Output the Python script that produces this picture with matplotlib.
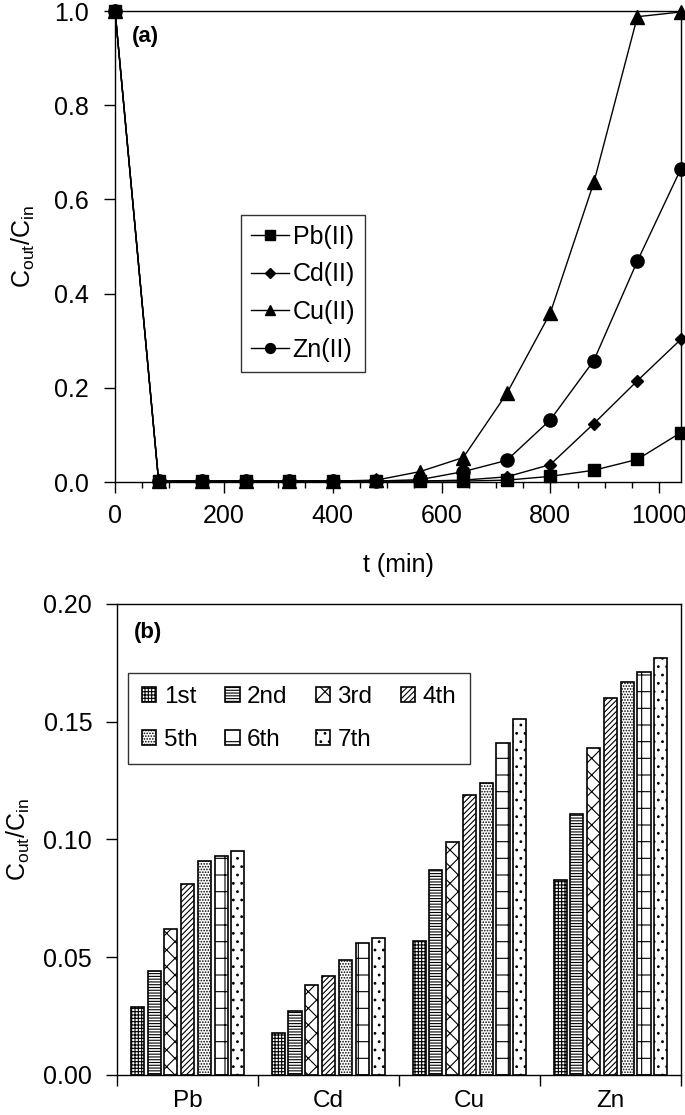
import matplotlib.pyplot as plt
import numpy as np

plt.rcParams['font.family'] = ['Liberation Sans', 'DejaVu Sans']
plt.rcParams['mathtext.fontset'] = 'custom'
plt.rcParams['mathtext.rm'] = 'Liberation Sans'
plt.rcParams['mathtext.it'] = 'Liberation Sans:italic'
plt.rcParams['hatch.linewidth'] = 0.8

# (a) breakthrough curves
t = [0, 80, 160, 240, 320, 400, 480, 560, 640, 720, 800, 880, 960, 1040]
pb = [1.0, 0.002, 0.002, 0.002, 0.002, 0.002, 0.002, 0.002, 0.002, 0.004, 0.012, 0.025, 0.048, 0.105]
cd = [1.0, 0.002, 0.002, 0.002, 0.002, 0.002, 0.002, 0.002, 0.004, 0.011, 0.037, 0.124, 0.215, 0.303]
cu = [1.0, 0.002, 0.002, 0.002, 0.002, 0.002, 0.004, 0.022, 0.052, 0.188, 0.359, 0.636, 0.988, 0.998]
zn = [1.0, 0.002, 0.002, 0.002, 0.002, 0.002, 0.002, 0.005, 0.022, 0.046, 0.132, 0.258, 0.469, 0.665]

# (b) bars per cycle
metals = ['Pb', 'Cd', 'Cu', 'Zn']
cycles = ['1st', '2nd', '3rd', '4th', '5th', '6th', '7th']
vals = [
    [0.029, 0.018, 0.057, 0.083],
    [0.044, 0.027, 0.087, 0.111],
    [0.062, 0.038, 0.099, 0.139],
    [0.081, 0.042, 0.119, 0.160],
    [0.091, 0.049, 0.124, 0.167],
    [0.093, 0.056, 0.141, 0.171],
    [0.095, 0.058, 0.151, 0.177],
]
hatches = ['+++++', '------', 'xx', '//////', '......', '+', '..']

fig = plt.figure(figsize=(6.85, 11.15), dpi=100)
fs = 18
lab = r'C$_{\mathrm{out}}$/C$_{\mathrm{in}}$'

ax1 = fig.add_axes([0.168, 0.5677, 0.826, 0.4224])
ax1.plot(t, pb, '-s', color='black', lw=1, ms=9, label='Pb(II)', clip_on=False, zorder=3)
ax1.plot(t, cd, '-D', color='black', lw=1, ms=6.5, label='Cd(II)', clip_on=False, zorder=3)
ax1.plot(t, cu, '-^', color='black', lw=1, ms=9.5, label='Cu(II)', clip_on=False, zorder=3)
ax1.plot(t, zn, '-o', color='black', lw=1, ms=9.5, label='Zn(II)', clip_on=False, zorder=3)
ax1.set_xlim(0, 1040)
ax1.set_ylim(0, 1.0)
ax1.set_xticks([0, 200, 400, 600, 800, 1000])
ax1.set_xticks(np.arange(0, 1041, 50), minor=True)
ax1.set_yticks([0, 0.2, 0.4, 0.6, 0.8, 1.0])
ax1.set_yticklabels(['0.0', '0.2', '0.4', '0.6', '0.8', '1.0'])
ax1.tick_params(labelsize=fs, direction='out', length=8, width=1)
ax1.tick_params(axis='y', pad=11)
ax1.tick_params(axis='x', pad=8)
ax1.tick_params(which='minor', direction='out', length=4, width=1)
ax1.set_xlabel('t (min)', fontsize=fs, labelpad=18)
ax1.set_ylabel(lab, fontsize=fs, labelpad=12)
ax1.text(0.03, 0.969, '(a)', transform=ax1.transAxes, fontsize=16, fontweight='bold', va='top')
leg = ax1.legend(loc='upper left', bbox_to_anchor=(0.223, 0.568), fontsize=fs, markerscale=0.75,
                 frameon=True, fancybox=False, edgecolor='black', handlelength=1.5,
                 handletextpad=0.15, labelspacing=0.55, borderpad=0.4, borderaxespad=0)
leg.get_frame().set_linewidth(1)
for s in ax1.spines.values():
    s.set_linewidth(1)

ax2 = fig.add_axes([0.171, 0.0359, 0.823, 0.4224])
x = np.arange(len(metals))
w = 0.093
step = 0.119
bars = []
for i, c in enumerate(cycles):
    b = ax2.bar(x + (i - 3) * step, vals[i], w, color='white', edgecolor='black', lw=1.2,
                hatch=hatches[i], label=c)
    bars.append(b)
ax2.set_xlim(-0.5, 3.5)
ax2.set_ylim(0, 0.2)
ax2.set_yticks([0, 0.05, 0.10, 0.15, 0.20])
ax2.set_yticklabels(['0.00', '0.05', '0.10', '0.15', '0.20'])
ax2.set_xticks([-0.5, 0.5, 1.5, 2.5, 3.5])
ax2.set_xticklabels([])
ax2.set_xticks(x, minor=True)
ax2.set_xticklabels(metals, minor=True)
ax2.tick_params(axis='x', which='minor', length=0, labelsize=17.5, pad=11)
ax2.tick_params(axis='x', which='major', direction='out', length=8, width=1)
ax2.tick_params(axis='y', labelsize=fs, direction='out', length=8, width=1, pad=10)
ax2.set_ylabel(lab, fontsize=fs, labelpad=8)
ax2.text(0.03, 0.962, '(b)', transform=ax2.transAxes, fontsize=16, fontweight='bold', va='top')
order = [0, 4, 1, 5, 2, 6, 3]
leg2 = ax2.legend([bars[k] for k in order], [cycles[k] for k in order],
                  loc='upper left', bbox_to_anchor=(0.02, 0.854), ncol=4, fontsize=17.5,
                  frameon=True, fancybox=False, edgecolor='black', handlelength=0.6,
                  handleheight=0.6, handletextpad=0.3, columnspacing=1.15,
                  labelspacing=0.85, borderpad=0.55, borderaxespad=0)
leg2.get_frame().set_linewidth(1)
for s in ax2.spines.values():
    s.set_linewidth(1)

fig.savefig('out.png', dpi=100)
